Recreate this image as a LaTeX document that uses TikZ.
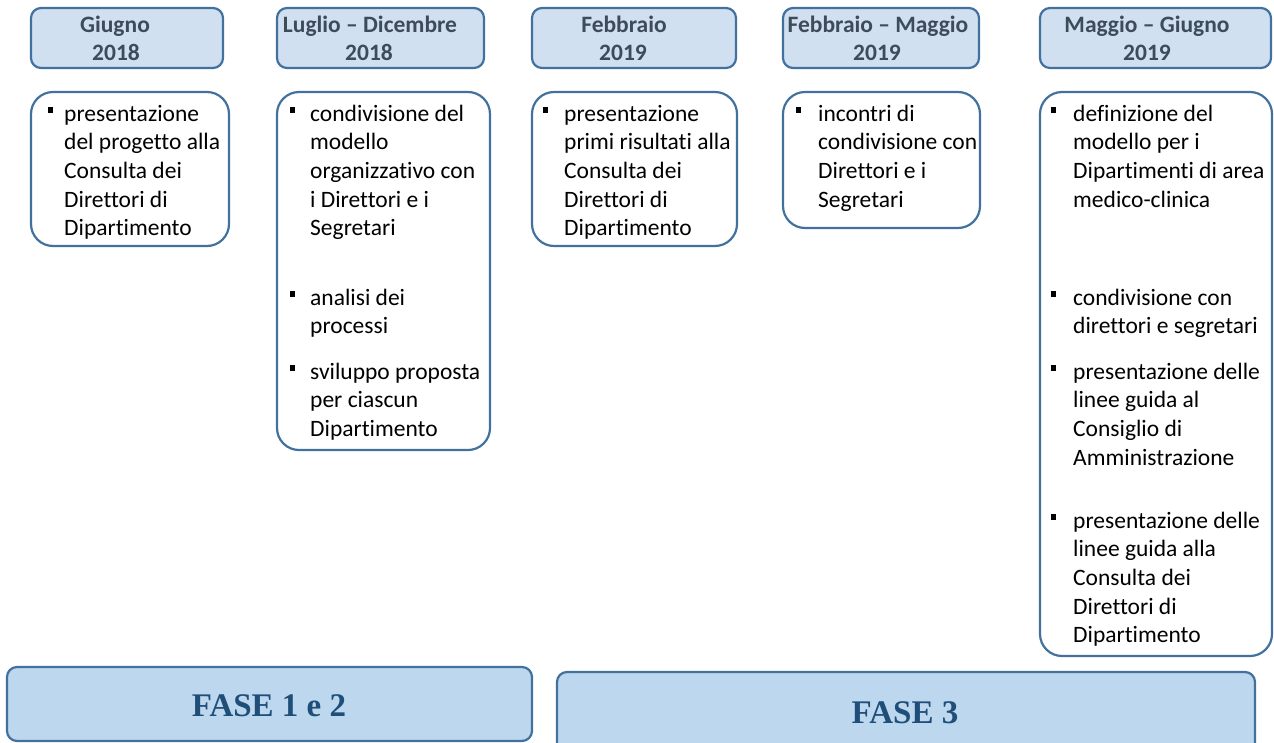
\documentclass[tikz,border=0pt]{standalone}
\usepackage{fontspec}
\setmainfont[Ligatures=NoCommon]{Carlito}
\newfontfamily\fasefont{Liberation Serif}
\definecolor{bord}{HTML}{41719C}
\definecolor{hdrfill}{HTML}{D0E0F1}
\definecolor{fasefill}{HTML}{BDD7EE}
\definecolor{hdrtext}{HTML}{3E4B59}
\definecolor{fasetext}{HTML}{1F4E79}
\newcommand{\bul}[1][16pt]{\leavevmode\llap{\raisebox{8.5pt}{\rule{5.5pt}{5.5pt}}\hspace{#1}}}
\newcommand{\itemtext}[1]{\parbox[t]{230pt}{\raggedright\fontsize{23.5}{28.7}\selectfont #1}}
\tikzset{
  hdrbox/.style={draw=bord, line width=2.2pt, fill=hdrfill, rounded corners=10pt, inner sep=0pt},
  hdrtxt/.style={anchor=base, inner sep=0pt, text=hdrtext, font=\fontsize{23.5}{28}\selectfont\bfseries},
  cbox/.style={draw=bord, line width=2.2pt, fill=white, rounded corners=22pt, inner sep=0pt},
  itm/.style={anchor=base west, inner sep=0pt, text=black},
  fasebox/.style={draw=bord, line width=2.2pt, fill=fasefill, rounded corners=10pt, inner sep=0pt},
  fasetxt/.style={anchor=base, inner sep=0pt, text=fasetext, font=\fasefont\fontsize{33}{36}\selectfont\bfseries}
}
\begin{document}
\begin{tikzpicture}[x=1pt,y=-1pt]
\useasboundingbox (0,0) rectangle (1274,742);
\clip (0,0) rectangle (1274,742);
% header boxes
\node[hdrbox, minimum width=192pt, minimum height=60pt] (h1) at (127,38) {};
\node[hdrbox, minimum width=207pt, minimum height=60pt] (h2) at (380.5,38) {};
\node[hdrbox, minimum width=204pt, minimum height=60pt] (h3) at (634,38) {};
\node[hdrbox, minimum width=196pt, minimum height=60pt] (h4) at (881,38) {};
\node[hdrbox, minimum width=231pt, minimum height=60pt] (h5) at (1155.5,38) {};
\node[hdrtxt] (h1a) at (115,32) {Giugno};
\node[hdrtxt] (h1b) at (116,60) {2018};
\node[hdrtxt] (h2a) at (370,32) {Luglio – Dicembre};
\node[hdrtxt] (h2b) at (369,60) {2018};
\node[hdrtxt] (h3a) at (624,32) {Febbraio};
\node[hdrtxt] (h3b) at (623,60) {2019};
\node[hdrtxt] (h4a) at (878,32) {Febbraio – Maggio};
\node[hdrtxt] (h4b) at (877,60) {2019};
\node[hdrtxt] (h5a) at (1147,32) {Maggio – Giugno};
\node[hdrtxt] (h5b) at (1147,60) {2019};
% content boxes
\node[cbox, minimum width=198pt, minimum height=154pt] (c1) at (130,169) {};
\node[cbox, minimum width=213pt, minimum height=358pt] (c2) at (383.5,271) {};
\node[cbox, minimum width=205pt, minimum height=154pt] (c3) at (634.5,169) {};
\node[cbox, minimum width=197pt, minimum height=136pt] (c4) at (881.5,160) {};
\node[cbox, minimum width=232pt, minimum height=564pt] (c5) at (1156,374) {};
% items
\node[itm] (i1a) at (64,121) {\itemtext{\bul[11pt]presentazione\\del progetto alla\\Consulta dei\\Direttori di\\Dipartimento}};
\node[itm] (i2a) at (310,121) {\itemtext{\bul[15pt]condivisione del\\modello\\organizzativo con\\i Direttori e i\\Segretari}};
\node[itm] (i2b) at (310,305) {\itemtext{\bul[15pt]analisi dei\\processi}};
\node[itm] (i2c) at (310,379) {\itemtext{\bul[15pt]sviluppo proposta\\per ciascun\\Dipartimento}};
\node[itm] (i3a) at (564,121) {\itemtext{\bul presentazione\\primi risultati alla\\Consulta dei\\Direttori di\\Dipartimento}};
\node[itm] (i4a) at (818,121) {\itemtext{\bul[17pt]incontri di\\condivisione con\\Direttori e i\\Segretari}};
\node[itm] (i5a) at (1073,121) {\itemtext{\bul[17pt]definizione del\\modello per i\\Dipartimenti di area\\medico-clinica}};
\node[itm] (i5b) at (1073,305) {\itemtext{\bul[17pt]condivisione con\\direttori e segretari}};
\node[itm] (i5c) at (1073,379) {\itemtext{\bul[17pt]presentazione delle\\linee guida al\\Consiglio di\\Amministrazione}};
\node[itm] (i5d) at (1073,528) {\itemtext{\bul[17pt]presentazione delle\\linee guida alla\\Consulta dei\\Direttori di\\Dipartimento}};
% phase boxes
\node[fasebox, minimum width=525pt, minimum height=74pt] (f1) at (269.5,704) {};
\node[fasebox, minimum width=698pt, minimum height=100pt] (f2) at (906,722) {};
\node[fasetxt] (f1t) at (269,716) {FASE 1 e 2};
\node[fasetxt] (f2t) at (905,723) {FASE 3};
\end{tikzpicture}
\end{document}
